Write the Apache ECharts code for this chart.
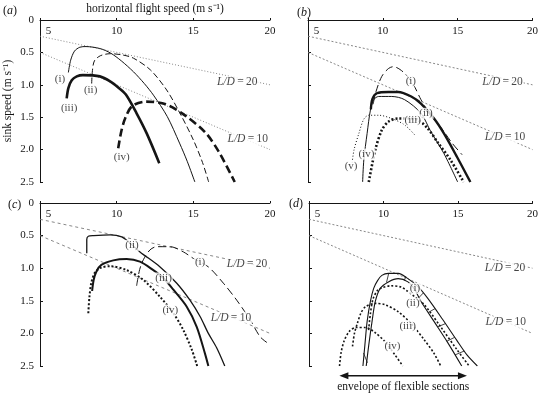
<!DOCTYPE html>
<html>
<head>
<meta charset="utf-8">
<script src="https://cdn.jsdelivr.net/npm/echarts@6/dist/echarts.min.js"></script>
<style>html,body{margin:0;padding:0;background:#fff}#chart{width:541px;height:395px}</style>
</head>
<body>
<div id="chart"></div>
<script>
const SERIF = '"Liberation Serif", "Times New Roman", serif';
const INK = '#151515';

// L/D reference lines (speed, sink)
const ld20 = [[5, 0.25], [20, 1.0]];
const ld10 = [[5, 0.5], [20, 2.0]];
const LD20 = '{i|L/D}{n|\u2009=\u200920}';
const LD10 = '{i|L/D}{n|\u2009=\u200910}';

// panel (a)
const aI   = [[6.85,0.81],[7.0,0.62],[7.25,0.48],[7.6,0.42],[8.0,0.41],[8.9,0.44],[9.6,0.51],[10.3,0.63],[11.1,0.8],[11.8,0.98],[12.4,1.16],[13.3,1.49],[14.1,1.9],[14.6,2.18],[15.1,2.5]];
const aII  = [[8.37,0.98],[8.42,0.78],[8.55,0.63],[8.95,0.55],[9.6,0.52],[10.4,0.54],[11.1,0.59],[12.2,0.77],[13.26,1.08],[14.13,1.44],[15.0,1.85],[15.6,2.2],[16.0,2.5]];
const aIII = [[6.74,1.21],[6.85,1.05],[7.07,0.93],[7.4,0.87],[7.8,0.85],[8.9,0.87],[9.6,0.95],[10.1,1.04],[10.6,1.15],[11.3,1.44],[11.96,1.75],[12.78,2.21]];
const aIV  = [[10.1,1.98],[10.3,1.72],[10.55,1.52],[11.0,1.33],[11.9,1.26],[13.2,1.3],[14.5,1.48],[15.8,1.74],[16.7,2.05],[17.7,2.5]];
const aLabels = [[6.3,0.91,'(i)'],[8.3,1.08,'(ii)'],[6.9,1.36,'(iii)'],[10.33,2.11,'(iv)'],
                 [17.86,0.96,LD20],[18.55,1.84,LD10]];

// panel (b)
const bI   = [[9.35,1.3],[9.55,1.1],[9.93,0.87],[10.37,0.75],[10.7,0.72],[11.35,0.8],[12.0,0.98],[12.55,1.23],[13.1,1.44],[13.86,1.65],[14.63,1.9],[15.3,2.08]];
const bII  = [[9.2,1.38],[9.3,1.22],[9.6,1.13],[10.37,1.11],[11.02,1.11],[11.9,1.18],[12.55,1.29],[13.42,1.52],[14.08,1.75],[14.95,2.11],[15.85,2.5]];
const bIII = [[9.06,2.5],[9.5,2.0],[9.93,1.7],[10.37,1.57],[11.02,1.52],[11.68,1.52],[12.33,1.54],[12.99,1.67],[13.64,1.88],[14.52,2.16],[15.4,2.5]];
const bIV  = [[8.65,2.5],[8.73,2.16],[8.95,1.75],[9.17,1.39],[9.39,1.23],[9.72,1.18],[10.59,1.18],[11.46,1.23],[12.55,1.44],[13.2,1.72],[14.08,2.06],[15.0,2.5]];
const bV   = [[7.95,2.2],[8.08,2.0],[8.4,1.75],[8.73,1.53],[9.06,1.47],[9.72,1.47],[10.59,1.52],[11.46,1.62],[12.12,1.77]];
const bLabels = [[11.87,0.94,'(i)'],[12.88,1.44,'(ii)'],[12.0,1.54,'(iii)'],[8.9,2.07,'(iv)'],[7.88,2.25,'(v)'],
                 [18.0,0.96,LD20],[18.16,1.81,LD10]];

// panel (c)
const cI   = [[11.3,1.27],[11.5,1.02],[11.74,0.87],[12.17,0.72],[12.61,0.67],[13.48,0.67],[14.35,0.75],[15.0,0.85],[15.98,0.98],[16.96,1.23],[17.83,1.49],[18.7,1.79],[19.35,2.05],[19.8,2.14]];
const cII  = [[8.05,0.77],[8.05,0.56],[8.15,0.51],[8.5,0.5],[9.57,0.49],[10.33,0.52],[10.9,0.62],[11.52,0.75],[12.83,0.98],[13.92,1.23],[14.78,1.49],[15.44,1.74],[15.98,2.0],[16.52,2.22],[17.05,2.5]];
const cIII = [[8.4,1.35],[8.5,1.18],[8.68,1.05],[9.0,0.95],[9.78,0.88],[10.65,0.86],[11.52,0.9],[12.39,1.03],[13.0,1.14],[13.7,1.33],[14.57,1.59],[15.22,1.9],[15.76,2.31],[15.98,2.5]];
const cIV  = [[8.15,1.69],[8.22,1.45],[8.35,1.22],[8.6,1.06],[9.0,0.99],[9.6,0.97],[10.65,1.03],[11.74,1.18],[12.83,1.44],[13.7,1.69],[14.35,1.95],[14.9,2.25],[15.25,2.5]];
const cLabels = [[15.44,0.9,'(i)'],[11.0,0.65,'(ii)'],[13.06,1.15,'(iii)'],[13.5,1.64,'(iv)'],
                 [18.5,0.94,LD20],[17.45,1.76,LD10]];

// panel (d)
const dOuter = [[8.62,2.5],[8.75,2.18],[8.9,1.82],[9.12,1.51],[9.34,1.31],[9.6,1.19],[9.89,1.11],[10.33,1.08],[10.99,1.08],[11.64,1.16],[12.3,1.28],[12.96,1.46],[13.95,1.78],[14.9,2.1],[15.6,2.33],[16.3,2.5]];
const dInner = [[8.84,2.5],[9.01,2.18],[9.23,1.82],[9.45,1.51],[9.78,1.31],[10.33,1.21],[10.99,1.16],[11.64,1.21],[12.1,1.33],[12.52,1.51],[13.4,1.82],[14.28,2.13],[15.25,2.5]];
const dRungs = [[[8.66,2.3],[8.92,2.45]],[[10.2,1.22],[10.35,1.08]],[[11.4,1.19],[11.5,1.12]],
                [[12.38,1.45],[12.67,1.38]],[[13.0,1.68],[13.46,1.62]],[[13.63,1.9],[14.16,1.85]],
                [[14.25,2.12],[14.78,2.06]],[[14.8,2.33],[15.42,2.27]]];
const dII  = [[9.0,1.95],[9.12,1.7],[9.3,1.47],[9.6,1.34],[9.9,1.3],[10.5,1.27],[11.2,1.29],[11.6,1.35],[12.1,1.44],[12.74,1.56],[13.84,1.9],[14.93,2.25],[15.75,2.5]];
const dIII = [[7.92,2.2],[8.05,2.0],[8.24,1.85],[8.5,1.68],[8.8,1.59],[9.45,1.54],[10.1,1.56],[11.0,1.67],[11.86,1.85],[12.74,2.1],[13.4,2.31],[13.84,2.5]];
const dIV  = [[7.05,2.5],[7.15,2.3],[7.35,2.12],[7.7,1.97],[8.14,1.91],[8.8,1.91],[9.45,1.99],[10.11,2.13],[10.77,2.33],[11.3,2.5]];
const dLabels = [[12.11,1.31,'(i)'],[11.97,1.54,'(ii)'],[11.62,1.89,'(iii)'],[10.6,2.2,'(iv)'],
                 [18.16,1.0,LD20],[18.2,1.83,LD10]];
const envelope = [7.04, 15.6];

const grids = [
  { left: 40, top: 20, width: 230, height: 162 },
  { left: 308, top: 20, width: 229, height: 162 },
  { left: 40, top: 203, width: 230, height: 163 },
  { left: 309, top: 203, width: 228, height: 163 }
];

const xAxes = grids.map((g, i) => ({
  gridIndex: i, type: 'value', position: 'top', min: 5, max: 20, interval: 5,
  name: i === 0 ? 'horizontal flight speed (m s\u207B\u00B9)' : '',
  nameLocation: 'middle', nameGap: 5,
  nameTextStyle: { fontFamily: SERIF, fontSize: 11.5, color: INK },
  axisLine: { onZero: false, lineStyle: { color: INK, width: 1 } },
  axisTick: { show: true, length: 2, lineStyle: { color: INK } },
  axisLabel: {
    inside: true, margin: 6, fontFamily: SERIF, fontSize: 11, color: INK,
    formatter: v => v === 5 ? '{p|5}' : String(v),
    rich: { p: { fontFamily: SERIF, fontSize: 11, color: INK, padding: [0, 0, 0, 17] } }
  },
  splitLine: { show: false }
}));

const yAxes = grids.map((g, i) => ({
  gridIndex: i, type: 'value', inverse: true, min: 0, max: 2.5, interval: 0.5,
  name: i === 0 ? 'sink speed (m s\u207B\u00B9)' : '',
  nameLocation: 'middle', nameGap: 26, nameRotate: 90,
  nameTextStyle: { fontFamily: SERIF, fontSize: 11.5, color: INK },
  axisLine: { show: true, onZero: false, lineStyle: { color: INK, width: 1 } },
  axisTick: { show: true, inside: true, length: 3, lineStyle: { color: INK } },
  axisLabel: {
    show: i === 0 || i === 2, margin: 6, fontFamily: SERIF, fontSize: 11, color: INK,
    formatter: v => v === 0 ? '0' : v.toFixed(1)
  },
  splitLine: { show: false }
}));

function curve(g, data, width, type) {
  return {
    type: 'line', xAxisIndex: g, yAxisIndex: g, data, smooth: 0.3, symbol: 'none',
    silent: true, z: 3, lineStyle: { color: INK, width, type: type || 'solid' }
  };
}
function ldLine(g, data, type) {
  return {
    type: 'line', xAxisIndex: g, yAxisIndex: g, data, symbol: 'none', silent: true, z: 2,
    lineStyle: { color: '#7a7a7a', width: 0.9, type }
  };
}
function labelSeries(g, items) {
  return {
    type: 'scatter', xAxisIndex: g, yAxisIndex: g, symbolSize: 0, silent: true, z: 10,
    data: items.map(d => ({ value: [d[0], d[1]], label: { formatter: d[2] } })),
    label: {
      show: true, position: 'inside', color: INK, fontFamily: SERIF, fontSize: 11,
      backgroundColor: '#fff', padding: [0, 1],
      rich: {
        i: { fontFamily: SERIF, fontSize: 11.5, fontStyle: 'italic', color: INK },
        n: { fontFamily: SERIF, fontSize: 11.5, color: INK }
      }
    }
  };
}

const series = [
  ldLine(0, ld20, [1, 2]), ldLine(0, ld10, [1, 2]),
  curve(0, aI, 1), curve(0, aII, 1, [6, 3]), curve(0, aIII, 2.6), curve(0, aIV, 2.6, [8, 4]),
  labelSeries(0, aLabels),

  ldLine(1, ld20, [2, 2]), ldLine(1, ld10, [2, 2]),
  curve(1, bI, 1, [8, 4]), curve(1, bII, 2.4), curve(1, bIII, 2.6, [2, 2]), curve(1, bIV, 1), curve(1, bV, 1, [1, 2]),
  labelSeries(1, bLabels),

  ldLine(2, ld20, [3, 3]), ldLine(2, ld10, [3, 3]),
  curve(2, cI, 1, [8, 4]), curve(2, cII, 1.3), curve(2, cIII, 2), curve(2, cIV, 2, [2, 2]),
  labelSeries(2, cLabels),

  ldLine(3, ld20, [2, 2]), ldLine(3, ld10, [2, 2]),
  curve(3, dOuter, 1.1), curve(3, dInner, 1.1),
  ...dRungs.map(r => ({ ...curve(3, r, 0.8), smooth: false })),
  curve(3, dII, 1.6, [2, 2]), curve(3, dIII, 1.6, [2, 2]), curve(3, dIV, 1.6, [2, 2]),
  labelSeries(3, dLabels)
];

function panelTag(letter, x, y) {
  return {
    type: 'text', x, y,
    style: {
      text: '{n|(}{i|' + letter + '}{n|)}', verticalAlign: 'middle',
      rich: {
        n: { fontFamily: SERIF, fontSize: 12, fill: INK },
        i: { fontFamily: SERIF, fontSize: 12, fontStyle: 'italic', fill: INK }
      }
    }
  };
}

const chart = echarts.init(document.getElementById('chart'), null, { renderer: 'canvas' });
chart.setOption({
  animation: false,
  backgroundColor: '#fff',
  grid: grids,
  xAxis: xAxes,
  yAxis: yAxes,
  series
});

const pL = chart.convertToPixel({ gridIndex: 3 }, [envelope[0], 2.65]);
const pR = chart.convertToPixel({ gridIndex: 3 }, [envelope[1], 2.65]);
const yA = pL[1];
chart.setOption({
  graphic: [
    panelTag('a', 3, 11), panelTag('b', 297, 13), panelTag('c', 8, 205), panelTag('d', 289, 204),
    { type: 'line', shape: { x1: pL[0] + 6, y1: yA, x2: pR[0] - 6, y2: yA }, style: { stroke: INK, lineWidth: 1.4 } },
    { type: 'polygon', shape: { points: [[pL[0], yA], [pL[0] + 9, yA - 3.5], [pL[0] + 9, yA + 3.5]] }, style: { fill: INK } },
    { type: 'polygon', shape: { points: [[pR[0], yA], [pR[0] - 9, yA - 3.5], [pR[0] - 9, yA + 3.5]] }, style: { fill: INK } },
    {
      type: 'text', x: (pL[0] + pR[0]) / 2, y: yA + 11,
      style: { text: 'envelope of flexible sections', fontFamily: SERIF, fontSize: 11.5, fill: INK, align: 'center', verticalAlign: 'middle' }
    }
  ]
});
</script>
</body>
</html>
